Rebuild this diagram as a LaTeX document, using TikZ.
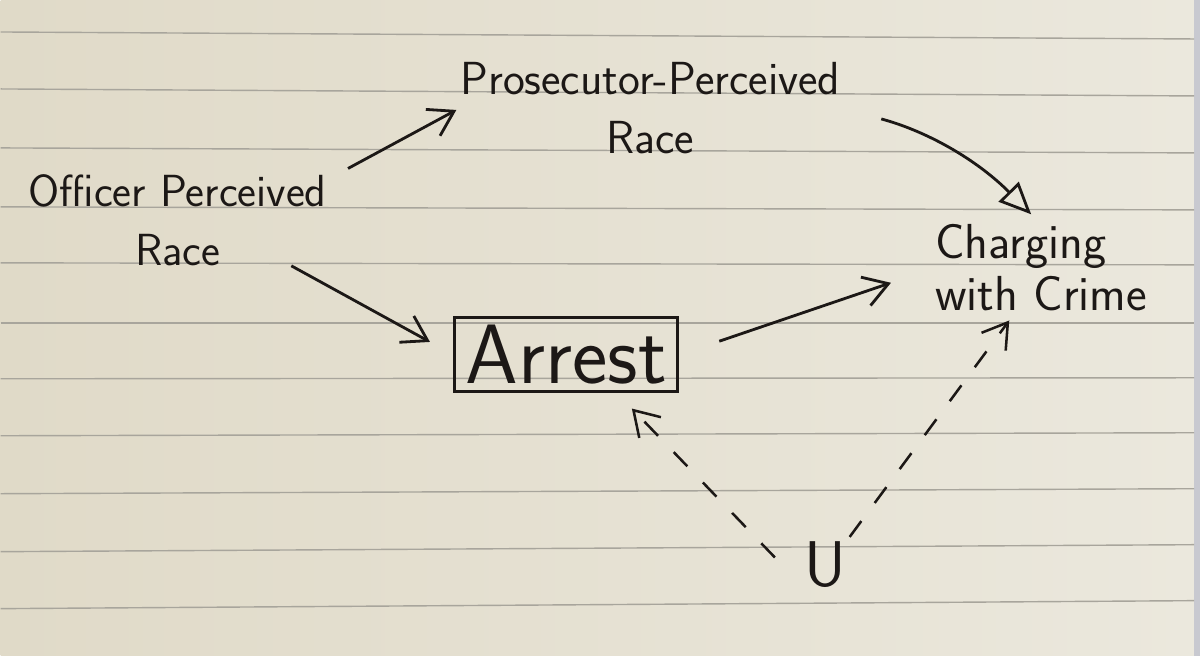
\documentclass[tikz,border=0pt]{standalone}
\usetikzlibrary{arrows.meta,calc}
\definecolor{papier_gauche}{RGB}{224,218,200}
\definecolor{papier_droit}{RGB}{235,232,221}
\definecolor{bord}{RGB}{200,201,208}
\definecolor{ligne}{RGB}{168,165,156}
\definecolor{encre}{RGB}{28,24,22}
\begin{document}
\begin{tikzpicture}[x=0.025cm,y=-0.025cm]
		\tikzstyle{etiquette}=[font=\sffamily\fontsize{32}{42}\selectfont, align=center, inner sep=0pt, text=encre]
		\tikzstyle{boite}=[draw=encre, line width=2.2pt, minimum width=5.575cm, minimum height=1.85cm, inner sep=0pt, text=encre, font=\sffamily\fontsize{60}{64}\selectfont]
		\tikzstyle{fleche}=[draw=encre, line width=2pt, -{Straight Barb[length=6mm,width=7.5mm]}]
		\tikzstyle{fleche_double}=[draw=encre, line width=2pt, -{Triangle[open,length=8mm,width=7mm]}]
		\tikzstyle{fleche_tirets}=[fleche, line width=1.8pt, dash pattern=on 14pt off 16pt]
		% papier
		\shade[left color=papier_gauche, right color=papier_droit] (0,0) rectangle (1194,656);
		\fill[bord] (1194,0) rectangle (1200,656);
		\foreach \ya/\yb in {32/39, 89/96, 148/153, 207/210, 263/265, 323/323, 379/378, 436/433, 494/489, 552/545, 609/601}
			\draw[ligne, line width=1pt] (0,\ya) -- (1194,\yb);
		% noeuds
		\node[etiquette] (officier) at (177,220) {Officer Perceived\\Race};
		\node[etiquette, font=\sffamily\fontsize{33}{42}\selectfont] (procureur) at (650,108) {Prosecutor-Perceived\\Race};
		\node[etiquette, align=left, font=\sffamily\fontsize{35}{37}\selectfont] (accusation) at (1041,268) {Charging\\with Crime};
		\node[boite] (arrestation) at (566,355) {Arrest};
		\node[etiquette, font=\sffamily\fontsize{46}{50}\selectfont] (u) at (825,565) {U};
		% fleches
		\draw[fleche, shorten <=17pt, shorten >=3pt] (officier.15) -- (procureur.west);
		\draw[fleche, shorten >=19pt] (officier.-22) -- (arrestation.west);
		\draw[fleche_double, shorten <=30pt, shorten >=10pt] (procureur.east) to[bend left=15] (accusation.north);
		\draw[fleche, shorten <=30pt, shorten >=33pt] (arrestation.east) -- (accusation.west);
		% variable cachee
		\draw[fleche_tirets, shorten <=30pt, shorten >=15pt] (u.south west) -- ($(arrestation.south)!0.45!(arrestation.south east)$);
		\draw[fleche_tirets, shorten <=4pt, shorten >=8pt] (u.north east) -- (accusation.-120);
\end{tikzpicture}
\end{document}
